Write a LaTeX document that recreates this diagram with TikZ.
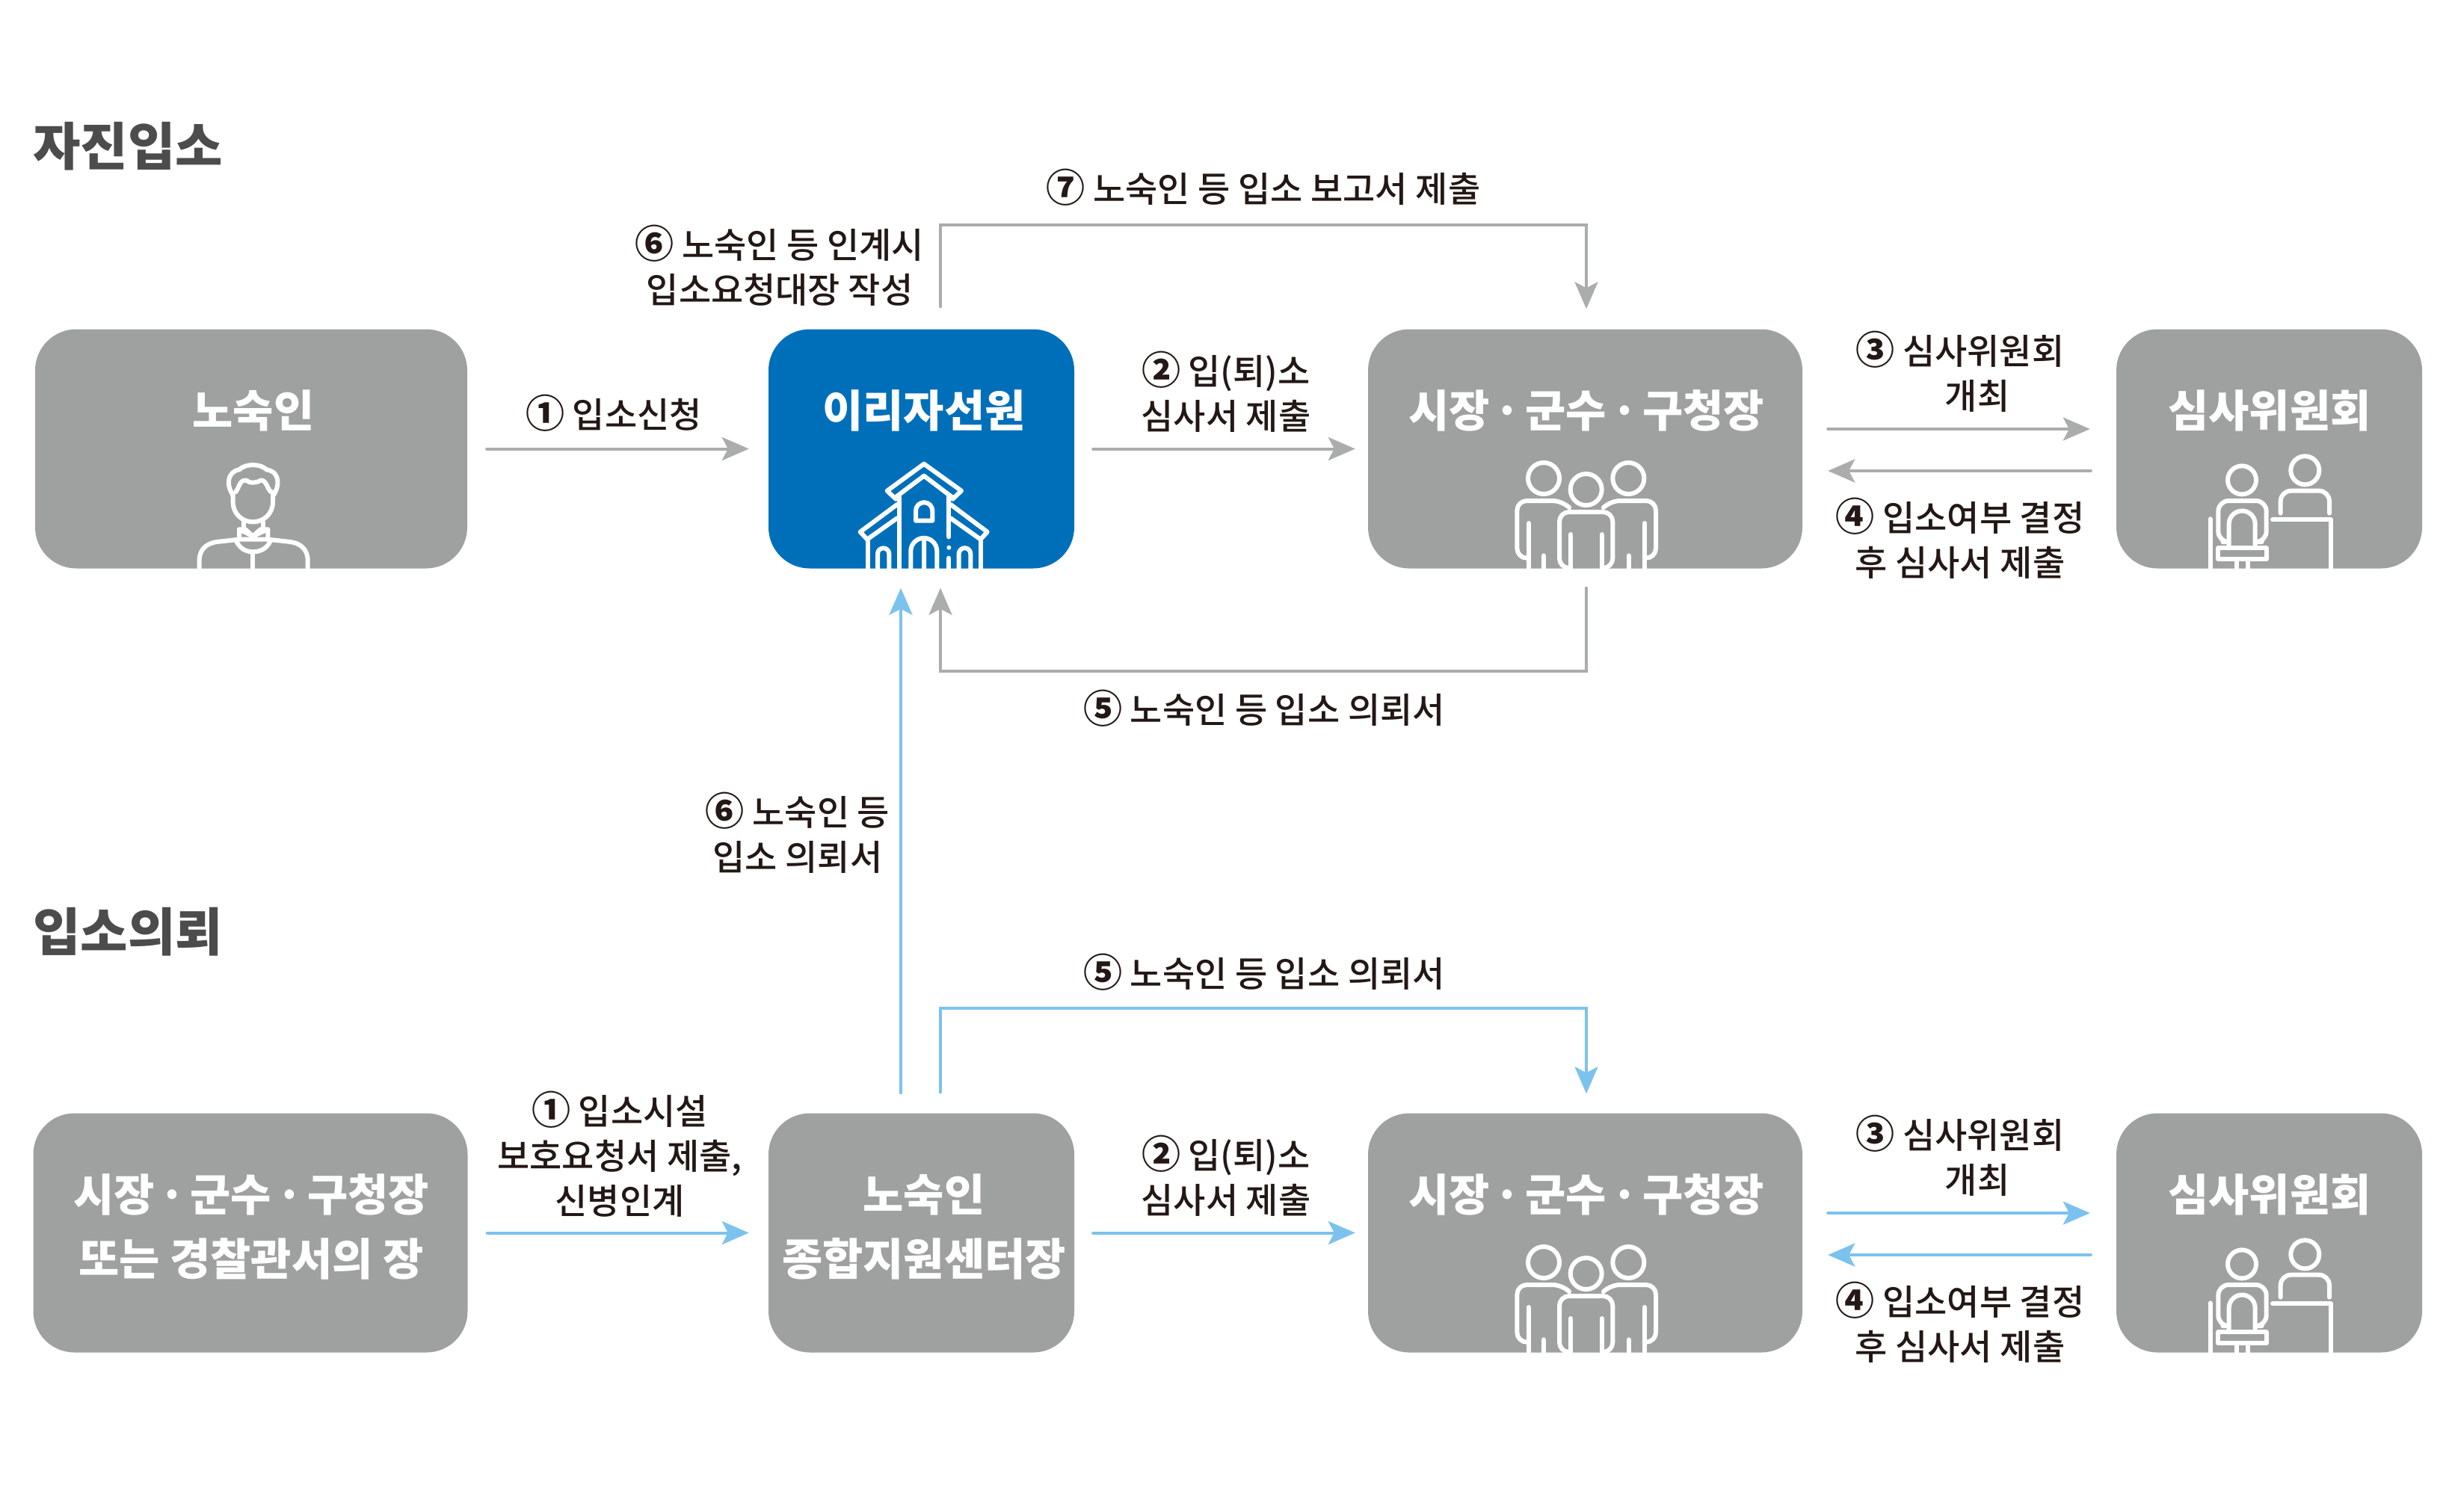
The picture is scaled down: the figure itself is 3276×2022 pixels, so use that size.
\documentclass[tikz,border=0pt]{standalone}
\usepackage{fontspec}
\setmainfont{Noto Sans CJK KR}
\newfontfamily\medfont{Noto Sans CJK KR Medium}
\usetikzlibrary{arrows.meta}

\definecolor{boxgray}{HTML}{9FA0A0}
\definecolor{boxblue}{HTML}{006FBA}
\definecolor{linegray}{HTML}{ABACAC}
\definecolor{lineblue}{HTML}{7CC2EE}
\definecolor{labelblack}{HTML}{231815}
\definecolor{titlegray}{HTML}{4C4C4C}

\newcommand{\stepno}[1]{{\fontsize{52}{60}\selectfont\bfseries #1}}
\newcommand{\middot}{\hspace{6pt}·\hspace{6pt}}

\tikzset{
  graybox/.style={fill=boxgray,rounded corners=55pt,inner sep=0pt,minimum height=320pt},
  bluebox/.style={graybox,fill=boxblue},
  boxtext/.style={white,font=\bfseries\fontsize{59}{86}\selectfont,align=center,inner sep=0pt},
  steptext/.style={labelblack,font=\medfont\fontsize{47}{60}\selectfont,align=center,inner sep=0pt},
  sectiontext/.style={titlegray,font=\bfseries\fontsize{69}{80}\selectfont,anchor=west,inner sep=0pt},
  flow/.style={line width=4pt,line cap=round,-{Stealth[length=36pt,width=31pt,inset=8pt]}},
  grayflow/.style={flow,linegray},
  blueflow/.style={flow,lineblue},
  icon/.style={white,line width=6pt,line cap=round,line join=round},
  iconframe/.style={shift={#1},x=.33333pt,y=-.33333pt}
}

% icons, in thirds of a pixel
\newcommand{\familyicon}[1]{%
  \begin{scope}[iconframe={#1}]
    \clip (0,0) rectangle (780,513);
    \draw[icon] (195,150) circle (63) (365,195) circle (63) (535,150) circle (63);
    \draw[icon,rounded corners=13pt] (295,265) -- (270,240) -- (88,240) -- (88,470) -- (130,470);
    \draw[icon] (135,330) -- (135,530) (195,460) -- (195,530);
    \draw[icon,rounded corners=13pt] (298,510) -- (258,510) -- (258,285) -- (472,285) -- (472,510) -- (432,510);
    \draw[icon] (303,375) -- (303,530) (428,375) -- (428,530);
    \draw[icon,rounded corners=13pt] (437,265) -- (462,240) -- (645,240) -- (645,470) -- (602,470);
    \draw[icon] (600,330) -- (600,530) (537,460) -- (537,530);
  \end{scope}}
\newcommand{\deskicon}[1]{%
  \begin{scope}[iconframe={#1}]
    \clip (0,0) rectangle (690,513);
    \draw[icon] (207,157) circle (57) (460,118) circle (57);
    \draw[icon,rounded corners=14pt] (362,290) -- (362,200) -- (558,200) -- (558,290);
    \draw[icon] (330,315) -- (565,315) -- (565,530) (80,313) -- (80,530);
    \draw[icon,rounded corners=14pt] (130,405) -- (112,405) -- (112,240) -- (305,240) -- (305,405) -- (287,405);
    \draw[icon] (155,430) -- (155,333) arc[start angle=180,end angle=360,radius=52.5] -- (260,430);
    \draw[icon] (112,430) rectangle (305,475) (185,475) -- (185,530) (232,475) -- (232,530);
  \end{scope}}

\begin{document}
\begin{tikzpicture}[x=1pt,y=-1pt]
    \useasboundingbox (0,0) rectangle (3276,2022);

    % upper row
    \node[graybox,minimum width=578pt] (person) at (336,600.5) {};
    \node[bluebox,minimum width=409pt] (village) at (1232.5,600.5) {};
    \node[graybox,minimum width=581pt] (mayor) at (2120.5,600.5) {};
    \node[graybox,minimum width=409pt] (board) at (3035.5,600.5) {};
    \node[boxtext] (personname) at (339,549) {노숙인};
    \node[boxtext] (villagename) at (1236,549) {이리자선원};
    \node[boxtext] (mayorname) at (2122,549) {시장\middot 군수\middot 구청장};
    \node[boxtext] (boardname) at (3036,549) {심사위원회};

    % lower row
    \node[graybox,minimum width=581pt] (police) at (335,1649.5) {};
    \node[graybox,minimum width=409pt] (center) at (1232.5,1649.5) {};
    \node[graybox,minimum width=581pt] (mayorb) at (2120.5,1649.5) {};
    \node[graybox,minimum width=409pt] (boardb) at (3035.5,1649.5) {};
    \node[boxtext] (policename) at (336,1641) {시장\middot 군수\middot 구청장\\또는 경찰관서의 장};
    \node[boxtext] (centername) at (1236,1641) {노숙인\\종합지원센터장};
    \node[boxtext] (mayorbname) at (2122,1598) {시장\middot 군수\middot 구청장};
    \node[boxtext] (boardbname) at (3036,1598) {심사위원회};

    \node[sectiontext] (selftitle) at (44,196) {자진입소};
    \node[sectiontext] (asktitle) at (44,1247) {입소의뢰};

    % icons
    \begin{scope}[iconframe={(240,600)}]
      \clip (0,0) rectangle (600,483);
      \draw[icon] (213,185) .. controls (180,130) and (205,90) .. (240,85)
        .. controls (265,60) and (325,60) .. (350,85) .. controls (390,90) and (410,130) .. (380,185);
      \draw[icon] (225,175) .. controls (240,160) and (240,125) .. (268,128)
        .. controls (280,140) and (310,140) .. (325,128) .. controls (350,125) and (350,160) .. (368,175);
      \draw[icon] (215,185) -- (215,215) .. controls (215,265) and (255,295) .. (295,295)
        .. controls (335,295) and (375,265) .. (375,215) -- (375,175);
      \draw[icon] (258,295) -- (258,325) (335,295) -- (335,325);
      \draw[icon] (240,325) -- (240,365) -- (355,365) -- (355,325) -- (295,352) -- (240,325);
      \draw[icon] (240,325) -- (265,325) -- (295,352) -- (325,325) -- (355,325);
      \draw[icon] (80,500) -- (80,450) .. controls (80,400) and (115,380) .. (150,375) -- (240,365);
      \draw[icon] (515,500) -- (515,450) .. controls (515,400) and (480,380) .. (445,375) -- (355,365);
      \draw[icon] (228,372) .. controls (245,405) and (270,415) .. (295,415)
        .. controls (320,415) and (350,405) .. (365,372);
      \draw[icon] (295,415) -- (295,500);
    \end{scope}
    \begin{scope}[iconframe={(1130,600)}]
      \clip (0,0) rectangle (630,483);
      \draw[icon] (205,203) -- (170,170) -- (318,62) -- (468,170) -- (433,203);
      \draw[icon] (205,195) -- (318,110) -- (430,195);
      \draw[icon] (218,195) -- (218,500) (418,195) -- (418,355) (418,440) -- (418,500);
      \fill[white] (418,398) circle (9);
      \draw[icon] (210,225) -- (62,335) -- (90,365) -- (210,280);
      \draw[icon] (425,225) -- (572,335) -- (545,365) -- (425,280);
      \draw[icon] (92,365) -- (92,500) (545,365) -- (545,500);
      \draw[icon] (285,290) -- (285,250) arc[start angle=180,end angle=360,radius=33.5] -- (352,290) -- cycle;
      \draw[icon] (265,500) -- (265,412) arc[start angle=180,end angle=360,radius=52.5] -- (370,500) (318,360) -- (318,500);
      \draw[icon] (132,500) -- (132,423) arc[start angle=180,end angle=360,radius=23] -- (178,500);
      \draw[icon] (458,500) -- (458,423) arc[start angle=180,end angle=360,radius=23.5] -- (505,500);
    \end{scope}
    \familyicon{(2000,590)}
    \familyicon{(2000,1639)}
    \deskicon{(2930,590)}
    \deskicon{(2930,1639)}

    % upper connectors
    \coordinate (reportbend) at (1700,301);
    \coordinate (requestbend) at (1700,898);
    \draw[grayflow,shorten <=26pt,shorten >=26pt] (person) -- (village);
    \draw[grayflow,shorten <=25pt,shorten >=17pt] (village) -- (mayor);
    \draw[grayflow,shorten <=34pt,shorten >=35pt] ([yshift=26.5pt]mayor.east) -- ([yshift=26.5pt]board.west);
    \draw[grayflow,shorten <=34pt,shorten >=34pt] ([yshift=-29.5pt]board.west) -- ([yshift=-29.5pt]mayor.east);
    \draw[grayflow,shorten <=30pt,shorten >=27pt] ([xshift=25.5pt]village.north) |- (reportbend) -| ([xshift=1.5pt]mayor.north);
    \draw[grayflow,shorten <=26pt,shorten >=26pt] ([xshift=1.5pt]mayor.south) |- (requestbend) -| ([xshift=25.5pt]village.south);

    % lower connectors
    \coordinate (centerbend) at (1700,1349);
    \draw[blueflow,shorten <=26pt,shorten >=26pt] (police) -- (center);
    \draw[blueflow,shorten <=25pt,shorten >=17pt] (center) -- (mayorb);
    \draw[blueflow,shorten <=34pt,shorten >=35pt] ([yshift=26.5pt]mayorb.east) -- ([yshift=26.5pt]boardb.west);
    \draw[blueflow,shorten <=34pt,shorten >=34pt] ([yshift=-29.5pt]boardb.west) -- ([yshift=-29.5pt]mayorb.east);
    \draw[blueflow,shorten <=28pt,shorten >=26pt] ([xshift=25.5pt]center.north) |- (centerbend) -| ([xshift=1.5pt]mayorb.north);
    \draw[blueflow,shorten <=27pt,shorten >=26pt] ([xshift=-27.5pt]center.north) -- ([xshift=-27.5pt]village.south);

    % step labels
    \node[steptext] (selfstepa) at (821,553) {\stepno{①} 입소신청};
    \node[steptext] (selfstepb) at (1640,524) {\stepno{②} 입(퇴)소\\심사서 제출};
    \node[steptext] (selfstepc) at (2622,497) {\stepno{③} 심사위원회\\\hspace*{46pt}개최};
    \node[steptext] (selfstepd) at (2622,720) {\stepno{④} 입소여부 결정\\후 심사서 제출};
    \node[steptext] (selfstepe) at (1691,948) {\stepno{⑤} 노숙인 등 입소 의뢰서};
    \node[steptext] (selfstepf) at (1043,355) {\stepno{⑥} 노숙인 등 인계시\\입소요청대장 작성};
    \node[steptext] (selfstepg) at (1690,251) {\stepno{⑦} 노숙인 등 입소 보고서 제출};
    \node[steptext] (askstepa) at (829,1544) {\stepno{①} 입소시설\\보호요청서 제출,\\신병인계};
    \node[steptext] (askstepb) at (1640,1573) {\stepno{②} 입(퇴)소\\심사서 제출};
    \node[steptext] (askstepc) at (2622,1546) {\stepno{③} 심사위원회\\\hspace*{46pt}개최};
    \node[steptext] (askstepd) at (2622,1769) {\stepno{④} 입소여부 결정\\후 심사서 제출};
    \node[steptext] (askstepe) at (1691,1301) {\stepno{⑤} 노숙인 등 입소 의뢰서};
    \node[steptext] (askstepf) at (1067,1114) {\stepno{⑥} 노숙인 등\\입소 의뢰서};
  \end{tikzpicture}
\end{document}
